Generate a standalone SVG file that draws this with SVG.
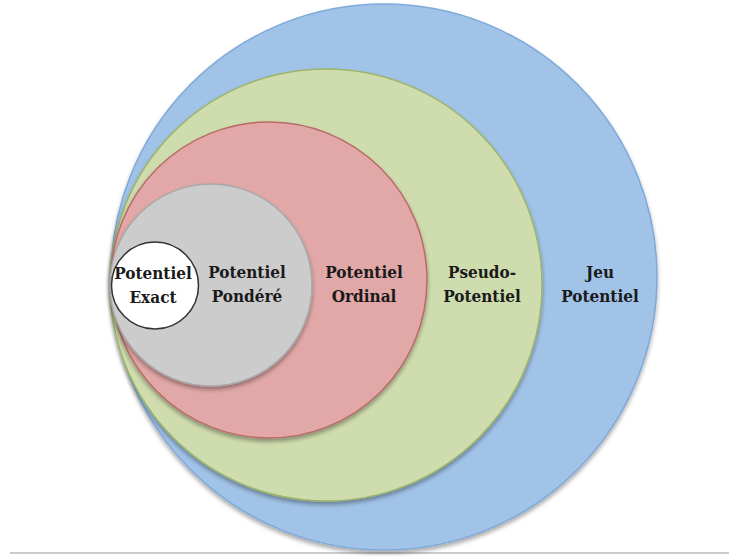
<svg xmlns="http://www.w3.org/2000/svg" width="729" height="556" viewBox="0 0 729 556">
  <style>
    .lbl { font-family: 'DejaVu Serif Condensed', 'DejaVu Serif', serif; font-stretch: condensed; font-weight: bold; font-size: 17px; fill: #1a1a1a; text-anchor: middle; }
  </style>
  <defs>
    <filter id="sh" x="-10%" y="-10%" width="120%" height="125%">
      <feGaussianBlur in="SourceAlpha" stdDeviation="2"/>
      <feOffset dx="0" dy="3" result="b"/>
      <feComponentTransfer><feFuncA type="linear" slope="0.35"/></feComponentTransfer>
      <feMerge><feMergeNode/><feMergeNode in="SourceGraphic"/></feMerge>
    </filter>
  </defs>
  <rect width="729" height="556" fill="#ffffff"/>
  <line x1="10" y1="553" x2="729" y2="553" stroke="#cccccc" stroke-width="2"/>
  <g id="jeu-potentiel">
    <circle cx="384" cy="277" r="273" fill="#a1c3e7" stroke="#7ea9d9" stroke-width="1.5" filter="url(#sh)"/>
    <text class="lbl" x="600" y="278">Jeu</text>
    <text class="lbl" x="600" y="302">Potentiel</text>
  </g>
  <g id="pseudo-potentiel">
    <circle cx="326" cy="285" r="216" fill="#cfdcad" stroke="#9cb569" stroke-width="1.5" filter="url(#sh)"/>
    <text class="lbl" x="482" y="278">Pseudo-</text>
    <text class="lbl" x="482" y="302">Potentiel</text>
  </g>
  <g id="potentiel-ordinal">
    <circle cx="269" cy="280" r="158" fill="#e1a8a7" stroke="#b86b69" stroke-width="1.5" filter="url(#sh)"/>
    <text class="lbl" x="364" y="278">Potentiel</text>
    <text class="lbl" x="364" y="302">Ordinal</text>
  </g>
  <g id="potentiel-pondere">
    <circle cx="211" cy="285" r="101" fill="#cccccc" stroke="#a9a9a9" stroke-width="1.5" filter="url(#sh)"/>
    <text class="lbl" x="247" y="278">Potentiel</text>
    <text class="lbl" x="247" y="302">Pondéré</text>
  </g>
  <g id="potentiel-exact">
    <circle cx="155" cy="285.5" r="43.5" fill="#ffffff" stroke="#333333" stroke-width="1.5"/>
    <text class="lbl" x="153" y="279">Potentiel</text>
    <text class="lbl" x="153" y="303">Exact</text>
  </g>
  <g id="connectors"/>
</svg>
